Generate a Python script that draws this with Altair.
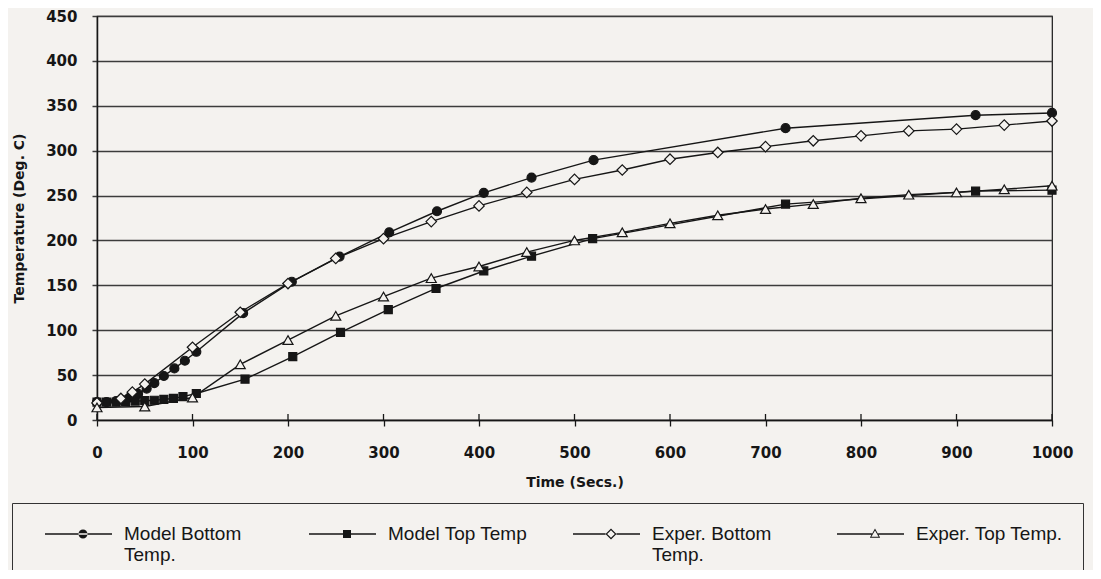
import altair as alt
import pandas as pd

# ---------------- data ----------------
model_bottom_time = [0, 10, 20, 27, 34, 43, 52, 60, 70, 81, 92, 104, 153, 204, 254, 306, 356, 405, 455, 520, 721, 920, 1000]
model_bottom_temp = [20, 20, 21, 22, 25, 29, 35, 41, 49, 57.5, 66, 76, 119, 154, 182, 209, 232.5, 253, 270, 289.5, 325, 339.5, 342]

model_top_time = [0, 10, 20, 30, 40, 50, 60, 70, 80, 90, 104, 155, 205, 255, 305, 355, 405, 455, 519, 721, 920, 1000]
model_top_temp = [20, 20, 20, 20.5, 21, 21.5, 22, 23, 24, 26, 29.5, 45.5, 70.5, 97.5, 123, 146.5, 166, 182.5, 202, 240.5, 255, 256]

exper_bottom_time = [0, 25, 37, 50, 100, 150, 200, 250, 300, 350, 400, 450, 500, 550, 600, 650, 700, 750, 800, 850, 900, 950, 1000]
exper_bottom_temp = [19, 24, 31, 40, 81, 120, 152, 180, 202, 221, 238.5, 253.5, 268, 278.5, 290.5, 298, 304.5, 311, 316.5, 322, 324, 328.5, 333]

exper_top_time = [0, 50, 100, 150, 200, 250, 300, 350, 400, 450, 500, 550, 600, 650, 700, 750, 800, 850, 900, 950, 1000]
exper_top_temp = [14, 15, 25, 62, 89, 116, 137.5, 158, 171, 187, 200, 209, 219, 228, 235, 240.5, 247, 251, 253.5, 257, 261]

series_names = ["Model Bottom Temp.", "Model Top Temp", "Exper. Bottom Temp.", "Exper. Top Temp."]
legend_labels = ["Model Bottom|Temp.", "Model Top Temp|", "Exper. Bottom|Temp.", "Exper. Top Temp.|"]
x_ticks = [0, 100, 200, 300, 400, 500, 600, 700, 800, 900, 1000]
y_ticks = [0, 50, 100, 150, 200, 250, 300, 350, 400, 450]

# ---------------- tables ----------------
rows = []
for name, ts, vs in zip(series_names,
                        [model_bottom_time, model_top_time, exper_bottom_time, exper_top_time],
                        [model_bottom_temp, model_top_temp, exper_bottom_temp, exper_top_temp]):
    for t, v in zip(ts, vs):
        rows.append({"series": name, "time": t, "temp": v})
df = pd.DataFrame(rows)

BG = "#f4f2ef"
INK = "#161616"
GRID = "#3c3c3c"
W, H = 955, 404

xs = alt.Scale(domain=[0, 1000], nice=False)
ys = alt.Scale(domain=[0, 450], nice=False)

x_axis = alt.Axis(values=x_ticks, format="d", grid=False, tickSize=6, tickColor=INK, tickWidth=1.3,
                  domainColor=INK, domainWidth=1.5, labelFlush=False,
                  labelFont="DejaVu Sans", labelFontWeight="bold", labelFontSize=15,
                  labelColor=INK, labelPadding=19, labelAngle=0,
                  title="Time (Secs.)", titleFont="DejaVu Sans", titleFontWeight="bold",
                  titleFontSize=14, titleColor=INK, titlePadding=15)
y_axis = alt.Axis(values=y_ticks, grid=True, gridColor=GRID, gridWidth=1.5,
                  tickSize=5, tickColor=GRID, tickWidth=1.5, labelFlush=False,
                  domainColor=INK, domainWidth=1.5,
                  labelFont="DejaVu Sans", labelFontWeight="bold", labelFontSize=15,
                  labelColor=INK, labelPadding=15,
                  title="Temperature (Deg. C)", titleFont="DejaVu Sans", titleFontWeight="bold",
                  titleFontSize=14, titleColor=INK, titlePadding=19)

lines = alt.Chart(df).mark_line(color=INK, strokeWidth=1.4).encode(
    x=alt.X("time:Q", scale=xs, axis=x_axis),
    y=alt.Y("temp:Q", scale=ys, axis=y_axis),
    detail="series:N",
)

marker_styles = {
    "Model Bottom Temp.": dict(shape="circle", fill=INK, size=81),
    "Model Top Temp": dict(shape="square", fill=INK, size=64),
    "Exper. Bottom Temp.": dict(shape="diamond", fill=BG, size=110),
    "Exper. Top Temp.": dict(shape="triangle-up", fill=BG, size=100),
}
point_layers = []
for name in series_names:
    st = marker_styles[name]
    point_layers.append(
        alt.Chart(df).transform_filter(alt.datum.series == name).mark_point(
            shape=st["shape"], filled=True, fill=st["fill"], stroke=INK,
            strokeWidth=1.2, size=st["size"], opacity=1
        ).encode(x=alt.X("time:Q", scale=xs), y=alt.Y("temp:Q", scale=ys))
    )

# inner half of the crossing x-axis ticks
inner_ticks = alt.Chart(pd.DataFrame({"t": x_ticks})).mark_rule(color=INK, strokeWidth=1.3).encode(
    x=alt.X("t:Q", scale=xs), y=alt.value(H - 6), y2=alt.value(H)
)

# legend symbols: line with marker, drawn as filled paths (unit = 10 px)
LINE = "M0.2,-0.07H6.9V0.07H0.2Z"
sym_paths = [
    LINE + "M3.55,0A0.45,0.45,0,1,0,4.45,0A0.45,0.45,0,1,0,3.55,0Z",
    LINE + "M3.6,-0.4H4.4V0.4H3.6Z",
    "M0.2,-0.07H3.45V0.07H0.2ZM4.55,-0.07H6.9V0.07H4.55Z"
    "M4,-0.55L4.55,0L4,0.55L3.45,0ZM4,-0.38L3.62,0L4,0.38L4.38,0Z",
    "M0.2,-0.07H3.69V0.07H0.2ZM4.31,-0.07H6.9V0.07H4.31Z"
    "M4,-0.55L4.52,0.38L3.48,0.38ZM4,-0.36L3.64,0.28L4.36,0.28Z",
]
legend_layer = alt.Chart(pd.DataFrame({"entry": legend_labels})).transform_filter(
    "datum.entry == 'none'"
).mark_point(filled=True, fill=INK, stroke=INK, opacity=1).encode(
    shape=alt.Shape("entry:N", scale=alt.Scale(domain=legend_labels, range=sym_paths),
                    legend=alt.Legend(
                        title=None, orient="none", legendX=-85, legendY=487,
                        direction="horizontal", columns=4, gridAlign="all",
                        columnPadding=25, padding=20,
                        labelExpr="split(datum.label, '|')",
                        labelFont="Liberation Sans", labelFontSize=19, labelColor=INK,
                        labelLimit=400, labelOffset=70, labelBaseline="middle",
                        symbolSize=400, symbolStrokeWidth=1.4,
                        symbolStrokeColor=INK, symbolFillColor=INK,
                        strokeColor="#333333", fillColor=BG,
                    ))
)

chart = alt.layer(lines, *point_layers, inner_ticks, legend_layer).properties(
    width=W, height=H,
    background=BG,
    autosize=alt.AutoSizeParams(type="none"),
    padding={"left": 89, "top": 8, "right": 41, "bottom": 150},
).configure_view(stroke=INK, strokeWidth=1.2)

chart.save("out.html", embed_options={"renderer": "svg", "actions": False})
